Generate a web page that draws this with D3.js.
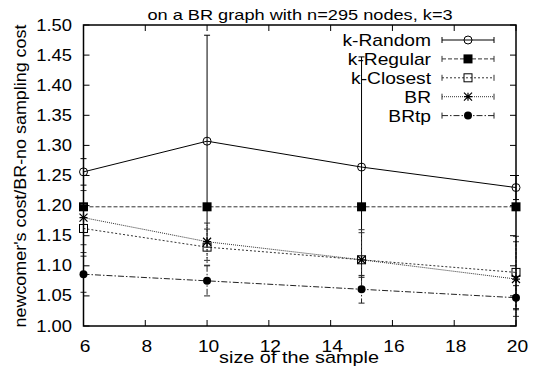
<!DOCTYPE html>
<html>
<head>
<meta charset="utf-8">
<script src="https://cdn.jsdelivr.net/npm/d3@7"></script>
<style>
  html, body { margin: 0; padding: 0; background: #fff; }
  svg { display: block; font-family: "Liberation Sans", Arial, Helvetica, sans-serif; }
</style>
</head>
<body>
<svg width="534" height="371"></svg>
<script>
// data
const sizes = [6, 10, 15, 20];
const seriesNames = ["k-Random", "k-Regular", "k-Closest", "BR", "BRtp"];
const kRandom = [1.256, 1.307, 1.264, 1.230];
const kRandomErr = [0.022, 0.176, 0.183, 0.02];
const kRegular = [1.198, 1.198, 1.198, 1.198];
const kRegularErr = [0, 0, 0, 0];
const kClosest = [1.162, 1.131, 1.110, 1.089];
const kClosestErr = [0.04, 0.03, 0.05, 0.06];
const br = [1.180, 1.140, 1.110, 1.078];
const brErr = [0.045, 0.031, 0.045, 0.062];
const brtp = [1.086, 1.075, 1.061, 1.047];
const brtpErr = [0.03, 0.025, 0.023, 0.02];
const xTicks = [6, 8, 10, 12, 14, 16, 18, 20];
const yTicks = [1.00, 1.05, 1.10, 1.15, 1.20, 1.25, 1.30, 1.35, 1.40, 1.45, 1.50];

const styles = [
  { dash: null, color: "#000", marker: "circle-open" },
  { dash: "4,2", color: "#333", marker: "square-fill" },
  { dash: "2,2", color: "#333", marker: "square-open" },
  { dash: "1,1", color: "#333", marker: "star" },
  { dash: "6,2,1.5,2", color: "#222", marker: "circle-fill" }
];
const values = [kRandom, kRegular, kClosest, br, brtp];
const errors = [kRandomErr, kRegularErr, kClosestErr, brErr, brtpErr];

const svg = d3.select("svg");
const m = { left: 83.5, right: 516, top: 25, bottom: 326 };

const x = d3.scaleLinear().domain([6, 20]).range([m.left, m.right]);
const y = d3.scaleLinear().domain([1.0, 1.5]).range([m.bottom, m.top]);

// the reference font is a bit stretched sideways, so scale text in x
const label = (g, tx, ty, str, size, sx, anchor, rot) =>
  g.append("text")
    .attr("transform", `translate(${tx},${ty})` + (rot ? ` rotate(${rot})` : "") + ` scale(${sx},1)`)
    .attr("text-anchor", anchor).attr("font-size", size).text(str);

// ticks, inward and mirrored
const tickG = svg.append("g").attr("stroke", "#000").attr("stroke-width", 1);
xTicks.forEach(t => {
  tickG.append("line").attr("x1", x(t)).attr("x2", x(t)).attr("y1", m.bottom).attr("y2", m.bottom - 6);
  tickG.append("line").attr("x1", x(t)).attr("x2", x(t)).attr("y1", m.top).attr("y2", m.top + 6);
});
yTicks.forEach(t => {
  tickG.append("line").attr("x1", m.left).attr("x2", m.left + 6).attr("y1", y(t)).attr("y2", y(t));
  tickG.append("line").attr("x1", m.right).attr("x2", m.right - 6).attr("y1", y(t)).attr("y2", y(t));
});

// tick labels
const tl = svg.append("g");
xTicks.forEach(t => label(tl, x(t) + 1.5, 351.5, t, 16, 1.2, "middle"));
yTicks.forEach(t => label(tl, 72, y(t) + 5.5, d3.format(".2f")(t), 16, 1.15, "end"));

// axis titles
label(svg, 299, 363, "size of the sample", 16, 1.24, "middle");
label(svg, 26, 176, "newcomer's cost/BR-no sampling cost", 16, 1.12, "middle", -90);
label(svg, 300, 20, "on a BR graph with n=295 nodes, k=3", 14, 1.3, "middle");

// markers
function drawMarker(g, type, cx, cy) {
  if (type === "circle-open") {
    g.append("circle").attr("cx", cx).attr("cy", cy).attr("r", 4).attr("fill", "none").attr("stroke", "#000");
  } else if (type === "circle-fill") {
    g.append("circle").attr("cx", cx).attr("cy", cy).attr("r", 4).attr("fill", "#000");
  } else if (type === "square-fill") {
    g.append("rect").attr("x", cx - 4.5).attr("y", cy - 4.5).attr("width", 9).attr("height", 9).attr("fill", "#000");
  } else if (type === "square-open") {
    g.append("rect").attr("x", cx - 4).attr("y", cy - 4).attr("width", 8).attr("height", 8)
      .attr("fill", "none").attr("stroke", "#000");
  } else if (type === "star") {
    const s = 4;
    const p = `M${cx - s},${cy}H${cx + s}M${cx},${cy - s}V${cy + s}M${cx - s},${cy - s}L${cx + s},${cy + s}M${cx - s},${cy + s}L${cx + s},${cy - s}`;
    g.append("path").attr("d", p).attr("stroke", "#000").attr("stroke-width", 1.2);
  }
}

const line = d3.line().x(d => x(d.s)).y(d => y(d.v));
const plot = svg.append("g");

values.forEach((vals, i) => {
  const st = styles[i];
  const pts = sizes.map((s, j) => ({ s, v: vals[j], e: errors[i][j] }));
  const g = plot.append("g");
  // error bars
  pts.forEach(p => {
    if (p.e <= 0) return;
    const x0 = x(p.s), y1 = y(p.v + p.e), y2 = y(p.v - p.e);
    g.append("line").attr("x1", x0).attr("x2", x0).attr("y1", y1).attr("y2", y2)
      .attr("stroke", st.color).attr("stroke-dasharray", st.dash);
    [y1, y2].forEach(yy => g.append("line").attr("x1", x0 - 3).attr("x2", x0 + 3).attr("y1", yy).attr("y2", yy)
      .attr("stroke", st.color));
  });
  g.append("path").datum(pts).attr("d", line).attr("fill", "none")
    .attr("stroke", st.color).attr("stroke-width", 1).attr("stroke-dasharray", st.dash);
  pts.forEach(p => drawMarker(g, st.marker, x(p.s), y(p.v)));
});

// legend
const leg = svg.append("g");
seriesNames.forEach((name, i) => {
  const st = styles[i];
  const ly = 40 + i * 18.9;
  label(leg, 431, ly + 6, name, 16, 1.2, "end");
  leg.append("line").attr("x1", 442).attr("x2", 494).attr("y1", ly).attr("y2", ly)
    .attr("stroke", st.color).attr("stroke-dasharray", st.dash);
  [442, 494].forEach(xx => leg.append("line").attr("x1", xx).attr("x2", xx).attr("y1", ly - 3).attr("y2", ly + 3)
    .attr("stroke", st.color));
  drawMarker(leg, st.marker, 468, ly);
});

// frame
svg.append("rect").attr("x", m.left).attr("y", m.top)
  .attr("width", m.right - m.left).attr("height", m.bottom - m.top)
  .attr("fill", "none").attr("stroke", "#000").attr("stroke-width", 1.5);
</script>
</body>
</html>
